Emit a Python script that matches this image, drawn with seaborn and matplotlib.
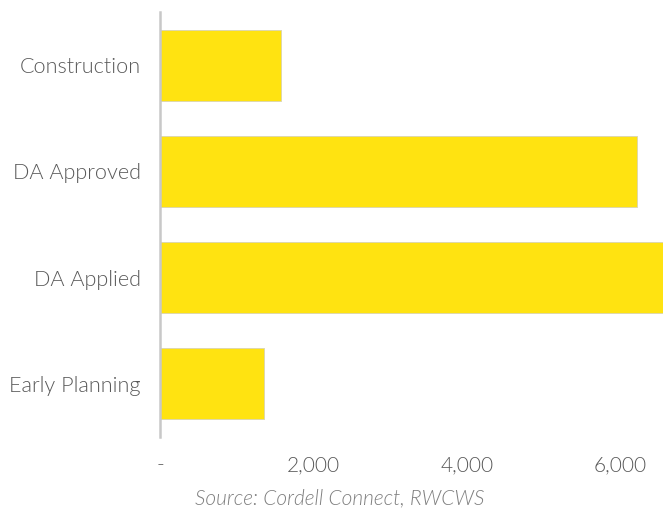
import matplotlib
matplotlib.use("Agg")
import matplotlib.pyplot as plt
import seaborn as sns
import pandas as pd

stages = ["Construction", "DA Approved", "DA Applied", "Early Planning"]
dwellings = [1580, 6220, 6620, 1350]
tick_values = [0, 2000, 4000, 6000]
tick_labels = ["-", "2,000", "4,000", "6,000"]
source_note = "Source: Cordell Connect, RWCWS"

sns.set_style("white")
plt.rcParams["font.family"] = ["Lato", "DejaVu Sans"]
plt.rcParams["font.weight"] = 300

df = pd.DataFrame({"stage": stages, "value": dwellings})

fig = plt.figure(figsize=(6.63, 5.13), dpi=100)
ax = fig.add_axes([160 / 663, 1 - 437 / 513, 1 - 160 / 663, (437 - 12) / 513])

sns.barplot(data=df, x="value", y="stage", order=stages, color="#FFE311",
            saturation=1, width=0.67, edgecolor="#d9d4b0", linewidth=0.6, ax=ax)

ax.set_xlim(0, 6555)
ax.set_ylim(3.5, -0.5)
ax.set_xticks(tick_values)
ax.set_xticklabels(tick_labels)
ax.set_xlabel("")
ax.set_ylabel("")
ax.tick_params(axis="both", length=0, colors="#595959")
ax.tick_params(axis="x", pad=13, labelsize=15)
ax.tick_params(axis="y", pad=14, labelsize=15.6)

for side in ["top", "right", "bottom"]:
    ax.spines[side].set_visible(False)
ax.spines["left"].set_color("#c8c8c8")
ax.spines["left"].set_linewidth(1.8)

fig.text(340 / 663, 1 - 498 / 513, source_note, ha="center", va="center",
         fontsize=15, style="italic", color="#7f7f7f")

fig.savefig("out.png", dpi=100)
